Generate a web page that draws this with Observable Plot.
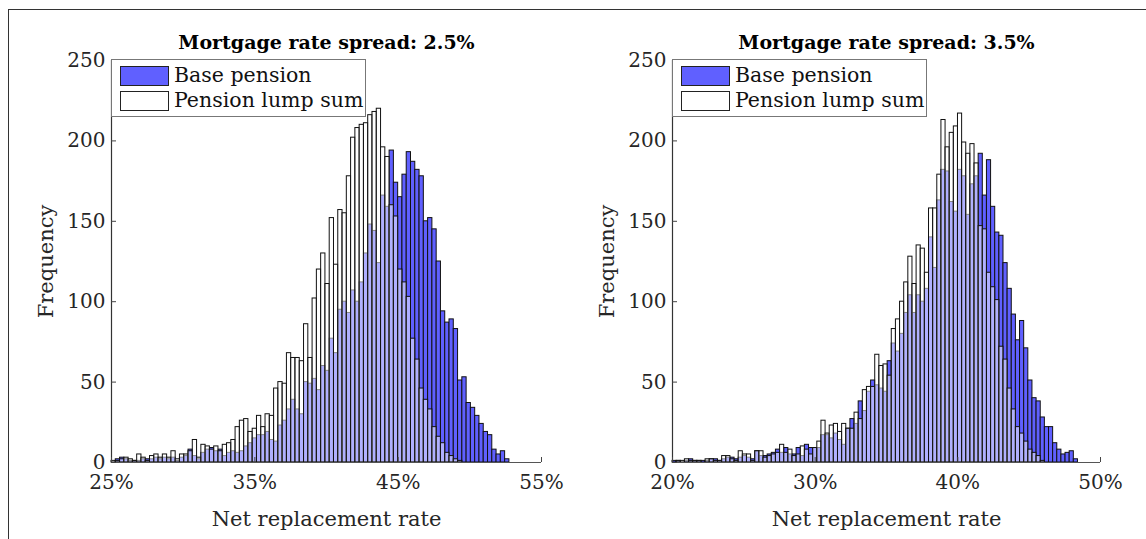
<!DOCTYPE html>
<html><head><meta charset="utf-8">
<script src="https://cdn.jsdelivr.net/npm/d3@7"></script>
<script src="https://cdn.jsdelivr.net/npm/@observablehq/plot@0.6"></script>
<style>
html,body{margin:0;padding:0;background:#fff;overflow:hidden;width:1146px;height:539px;}
#frame{position:absolute;left:8px;top:9px;width:1400px;height:800px;border-left:1px solid #333;border-top:1px solid #333;}
.panel{position:absolute;top:0;width:573px;height:539px;}
.legend{position:absolute;top:59px;width:253px;height:56px;border:1px solid #777;background:#fff;font-family:"DejaVu Serif";font-size:20.5px;color:#111;}
.row{position:absolute;left:8px;height:20px;width:240px;}
.sw{position:absolute;left:0;top:0;width:47px;height:18px;border:1px solid #222;}
.lab{position:absolute;left:54px;top:-3px;line-height:24px;white-space:nowrap;}
</style></head><body>
<div id="frame"></div>
<div id="left" class="panel" style="left:0"></div>
<div id="right" class="panel" style="left:573px"></div>
<script>
const titles = ["Mortgage rate spread: 2.5%", "Mortgage rate spread: 3.5%"];
const seriesNames = ["Base pension", "Pension lump sum"];
const xLabel = "Net replacement rate";
const yLabel = "Frequency";
const yTicks = [0, 50, 100, 150, 200, 250];
const leftXTicks = [25, 35, 45, 55];
const rightXTicks = [20, 30, 40, 50];
const leftBinStart = 25, leftBinWidth = 0.2985;
const rightBinStart = 20, rightBinWidth = 0.29;

const leftBase = [0,2,3,2,1,1,1,2,2,2,3,2,3,2,3,1,3,4,8,4,2,6,8,9,7,8,4,6,7,6,7,10,12,15,17,17,19,14,13,23,26,33,39,33,30,50,49,52,45,60,57,77,68,95,100,93,107,100,112,130,148,144,124,166,159,194,174,165,179,193,187,182,178,150,152,145,125,94,87,89,83,51,53,37,34,29,24,19,17,8,5,7,2];
const leftLump = [1,1,2,3,2,1,5,3,1,4,5,3,5,3,7,2,5,5,7,14,3,11,10,8,10,7,11,12,14,22,26,27,19,21,29,22,30,29,46,50,49,68,65,65,63,86,65,102,120,130,111,152,123,157,155,178,202,208,210,211,216,218,220,196,190,160,153,120,112,103,77,64,46,39,33,22,16,12,6,4,2,1,0,0,0,0,0,0,0,0,0,0,0];
const rightBase = [1,1,0,1,2,1,1,1,1,2,2,1,2,3,3,2,3,4,3,2,7,4,4,5,6,8,6,9,5,5,9,4,11,9,9,9,17,17,15,18,14,11,21,27,24,38,32,44,51,48,46,44,63,74,69,80,93,104,93,104,100,108,140,121,163,182,181,162,156,182,178,154,173,178,192,166,188,159,143,141,124,108,92,76,88,71,51,40,38,28,22,22,12,8,5,6,7,2];
const rightLump = [0,1,1,2,1,1,1,0,2,2,1,1,4,4,2,1,7,5,5,1,7,7,3,4,5,6,11,6,8,4,5,10,8,5,9,13,26,18,23,24,19,24,21,21,31,27,45,47,47,67,60,61,54,83,89,100,112,128,111,135,133,118,158,158,179,213,196,205,209,217,199,192,198,186,147,145,118,109,101,72,64,46,33,22,18,13,8,6,4,1,0,0,0,0,0,0,0,0];

const baseColor = "#6060ff";

function bins(start, width, values) {
  return values.map((v, i) => ({x1: start + i * width, x2: start + (i + 1) * width, y: v})).filter(d => d.y > 0);
}

function panel({title, xTicks, marginLeft, marginRight, base, lump}) {
  const xDomain = [xTicks[0], xTicks[xTicks.length - 1]];
  return Plot.plot({
    width: 573, height: 539,
    marginLeft, marginRight, marginTop: 60, marginBottom: 77,
    x: {domain: xDomain, label: null},
    y: {domain: [0, 250], label: null},
    style: {fontFamily: "DejaVu Serif", background: "transparent", overflow: "visible", color: "#262626"},
    marks: [
      Plot.rectY(base, {x1: "x1", x2: "x2", y: "y", fill: baseColor, stroke: "#111", strokeWidth: 1}),
      Plot.rectY(lump, {x1: "x1", x2: "x2", y: "y", fill: "white", fillOpacity: 0.5, stroke: "#111", strokeWidth: 1}),
      Plot.ruleY([0], {stroke: "#555", strokeWidth: 1.2}),
      Plot.ruleX([xDomain[0]], {stroke: "#333", strokeWidth: 1.2}),
      Plot.axisX({ticks: xTicks, tickSize: -5, tickFormat: () => "", stroke: "#444", label: null}),
      Plot.axisX({ticks: xTicks, tickSize: 0, tickPadding: 12, tickFormat: d => d + "%", fontSize: 20, fill: "#262626", label: null}),
      Plot.axisY({ticks: yTicks, tickSize: -5, tickFormat: () => "", stroke: "#444", label: null}),
      Plot.axisY({ticks: yTicks, tickSize: 0, tickPadding: 6, fontSize: 20, fill: "#262626", label: null}),
      Plot.text([title], {text: d => d, frameAnchor: "top", dy: -18, textAnchor: "middle", lineAnchor: "middle", fontWeight: "bold", fontSize: 19, fill: "#000"}),
      Plot.text([xLabel], {text: d => d, frameAnchor: "bottom", dy: 57, textAnchor: "middle", lineAnchor: "middle", fontSize: 21, fill: "#262626"}),
      Plot.text([yLabel], {text: d => d, frameAnchor: "left", dx: -65, rotate: -90, textAnchor: "middle", lineAnchor: "middle", fontSize: 21, fill: "#262626"})
    ]
  });
}

function legend(container, left) {
  const lg = document.createElement("div");
  lg.className = "legend";
  lg.style.left = left + "px";
  seriesNames.forEach((name, k) => {
    const row = document.createElement("div");
    row.className = "row";
    row.style.top = (6 + k * 25) + "px";
    const sw = document.createElement("span");
    sw.className = "sw";
    sw.style.background = k === 0 ? baseColor : "#fff";
    const lab = document.createElement("span");
    lab.className = "lab";
    lab.textContent = name;
    row.appendChild(sw); row.appendChild(lab);
    lg.appendChild(row);
  });
  container.appendChild(lg);
}

const L = document.getElementById("left");
L.appendChild(panel({title: titles[0], xTicks: leftXTicks, marginLeft: 111, marginRight: 32,
  base: bins(leftBinStart, leftBinWidth, leftBase), lump: bins(leftBinStart, leftBinWidth, leftLump)}));
legend(L, 111);
const R = document.getElementById("right");
R.appendChild(panel({title: titles[1], xTicks: rightXTicks, marginLeft: 99, marginRight: 46,
  base: bins(rightBinStart, rightBinWidth, rightBase), lump: bins(rightBinStart, rightBinWidth, rightLump)}));
legend(R, 99);
</script>
</body></html>
